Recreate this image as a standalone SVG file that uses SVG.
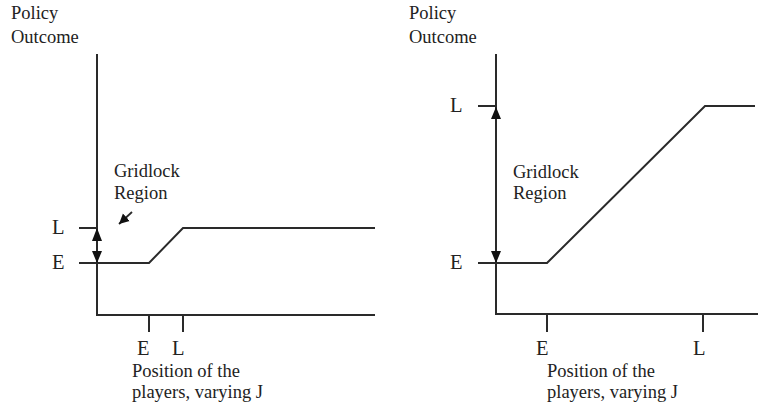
<svg xmlns="http://www.w3.org/2000/svg" width="762" height="417" viewBox="0 0 762 417">
<defs>
<style>
.ln{stroke:#2a2a2a;stroke-width:2;fill:none}
text{font-family:'Liberation Serif','Times New Roman',serif;fill:#222;font-size:18.5px}
.big{font-size:20.5px}
.ah{fill:#111}
</style>
<marker id="arr" markerWidth="10" markerHeight="12" refX="10" refY="5" orient="auto" markerUnits="userSpaceOnUse" viewBox="0 0 10 10">
<path d="M0,0 L10,5 L0,10 Z" fill="#111"/>
</marker>
</defs>
<rect width="762" height="417" fill="#fff"/>
<g id="left-chart" font-family="Liberation Serif, serif">
<text x="11" y="19">Policy</text>
<text x="11" y="43">Outcome</text>
<path class="ln" d="M97,54 V315 H375"/>
<path class="ln" d="M149,315 V332 M183,315 V332"/>
<path class="ln" d="M79,228 H97 M79,263 H149 L183,228 H375"/>
<text class="big" x="52" y="234">L</text>
<text class="big" x="52" y="269">E</text>
<text class="big" x="137" y="355">E</text>
<text class="big" x="172" y="355">L</text>
<text x="114" y="177">Gridlock</text>
<text x="114" y="199">Region</text>
<text x="132" y="377">Position of the</text>
<text x="132" y="398">players, varying J</text>
</g>
<g id="right-chart" font-family="Liberation Serif, serif">
<text x="409" y="19">Policy</text>
<text x="409" y="43">Outcome</text>
<path class="ln" d="M496,54 V314 H758"/>
<path class="ln" d="M547,314 V332 M703,314 V332"/>
<path class="ln" d="M478,106 H496 M478,263 H547 L705,106 H755"/>
<text class="big" x="450" y="112">L</text>
<text class="big" x="450" y="269">E</text>
<text class="big" x="536" y="355">E</text>
<text class="big" x="693" y="355">L</text>
<text x="513" y="178">Gridlock</text>
<text x="513" y="199">Region</text>
<text x="547" y="377">Position of the</text>
<text x="547" y="398">players, varying J</text>
</g>
<g id="connectors">
<path class="ln" d="M97,240 V252"/>
<path class="ah" d="M97,228 L92,241 L102,241 Z"/>
<path class="ah" d="M97,263 L92,251 L102,251 Z"/>
<path class="ln" d="M132,212 L119,224" marker-end="url(#arr)" style="stroke-width:1.8"/>
<path class="ln" d="M496,118 V252"/>
<path class="ah" d="M496,107 L491,119 L501,119 Z"/>
<path class="ah" d="M496,263 L491,251 L501,251 Z"/>
</g>
</svg>
